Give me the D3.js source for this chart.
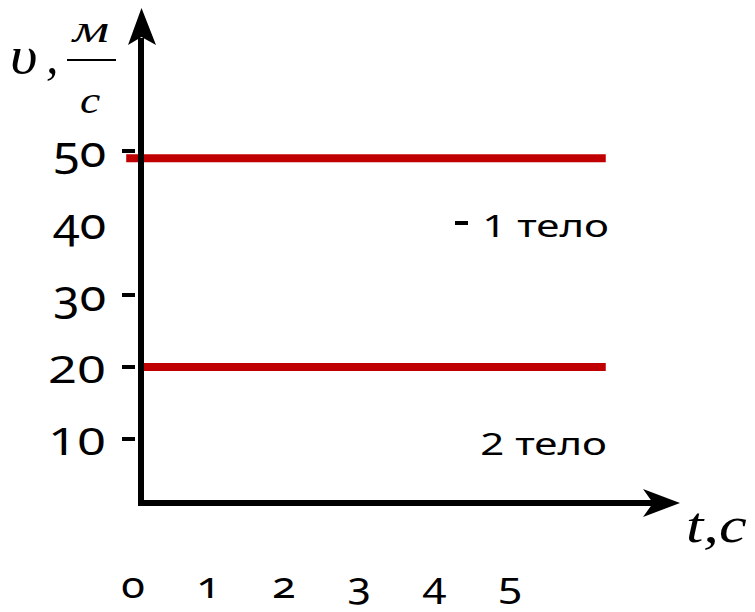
<!DOCTYPE html>
<html><head><meta charset="utf-8">
<script src="https://cdn.jsdelivr.net/npm/d3@7"></script>
<style>html,body{margin:0;padding:0;background:#fff;}svg{display:block;}</style>
</head><body>
<script>
// ---- data ----
const bodies = ["1 тело", "2 тело"];
const speeds = [49, 20];          // m/s
const tStart = [-0.09, 0.11];     // s
const tEnd = [6.27, 6.27];        // s
const yTicks = [50, 40, 30, 20, 10];
const yTickLabels = ["50", "40", "30", "20", "10"];
const xTicks = [0, 1, 2, 3, 4, 5];
const xTickLabels = ["0", "1", "2", "3", "4", "5"];

const W = 755, H = 612;
const svg = d3.select("body").append("svg").attr("width", W).attr("height", H);

const y = d3.scaleLinear().domain([0, 50]).range([511, 151]);
const x = d3.scaleLinear().domain([0, 5]).range([133, 510]);

const axisX = 141, axisY = 503;
const sans = "'Noto Sans', 'Open Sans', sans-serif";
const serif = "'Liberation Serif', 'Times New Roman', serif";

function txt(s, tx, ty, o) {
  return svg.append("text")
    .attr("transform", `translate(${tx},${ty}) scale(${o.sx || 1},1)`)
    .attr("text-anchor", o.anchor || "start")
    .attr("font-family", o.family || sans)
    .attr("font-size", o.size)
    .attr("font-style", o.style || "normal")
    .style("font-variant-numeric", o.num || "normal")
    .attr("fill", "#000")
    .text(s);
}

// ---- y ticks (the 40 tick sits displaced next to "1 тело") ----
yTicks.forEach((v, i) => {
  const x1 = v === 40 ? 455 : 122;
  svg.append("line").attr("x1", x1).attr("x2", x1 + 13)
    .attr("y1", y(v)).attr("y2", y(v)).attr("stroke", "#000").attr("stroke-width", 4);
  const old = v >= 30;
  txt(yTickLabels[i], 106, y(v) + 16, {
    size: old ? 43 : 39, anchor: "end", sx: old ? 1.12 : 1.3,
    num: old ? "oldstyle-nums" : "lining-nums"
  });
});

// ---- red lines ----
svg.selectAll("line.series").data(speeds).join("line")
  .attr("class", "series")
  .attr("x1", (d, i) => x(tStart[i])).attr("x2", (d, i) => x(tEnd[i]))
  .attr("y1", d => y(d)).attr("y2", d => y(d))
  .attr("stroke", "#C00000").attr("stroke-width", 8);

// ---- axes ----
svg.append("line").attr("x1", axisX).attr("x2", axisX).attr("y1", 506).attr("y2", 38)
  .attr("stroke", "#000").attr("stroke-width", 6);
svg.append("path").attr("d", `M${axisX + 0.5},8 L${axisX + 15},45 L${axisX + 0.5},37 L${axisX - 13},45 Z`).attr("fill", "#000");
svg.append("line").attr("x1", axisX - 3).attr("x2", 655).attr("y1", axisY).attr("y2", axisY)
  .attr("stroke", "#000").attr("stroke-width", 6);
svg.append("path").attr("d", `M680,${axisY} L643,${axisY - 14} L653,${axisY} L643,${axisY + 14} Z`).attr("fill", "#000");

// ---- x tick labels ----
xTicks.forEach((t, i) => {
  txt(xTickLabels[i], x(t), 598, { size: 36, anchor: "middle", sx: 1.2, num: "oldstyle-nums" });
});

// ---- body labels ----
txt(bodies[0], 609, y(40) + 14, { size: 30, anchor: "end", sx: 1.4 });
txt(bodies[1], 607, y(10) + 16, { size: 30, anchor: "end", sx: 1.4 });

// ---- axis titles ----
txt("υ", 10, 73, { size: 52, family: serif, style: "italic", sx: 1.15 });
txt(",", 46, 73, { size: 50, family: serif, style: "italic" });
txt("м", 91, 42, { size: 38, family: serif, style: "italic", anchor: "middle", sx: 1.5 });
svg.append("line").attr("x1", 67).attr("x2", 116).attr("y1", 60).attr("y2", 60)
  .attr("stroke", "#000").attr("stroke-width", 2);
txt("c", 90, 113, { size: 38, family: serif, style: "italic", anchor: "middle", sx: 1.2 });
txt("t,c", 686, 542, { size: 50, family: serif, style: "italic", sx: 1.25 });
</script>
</body></html>
